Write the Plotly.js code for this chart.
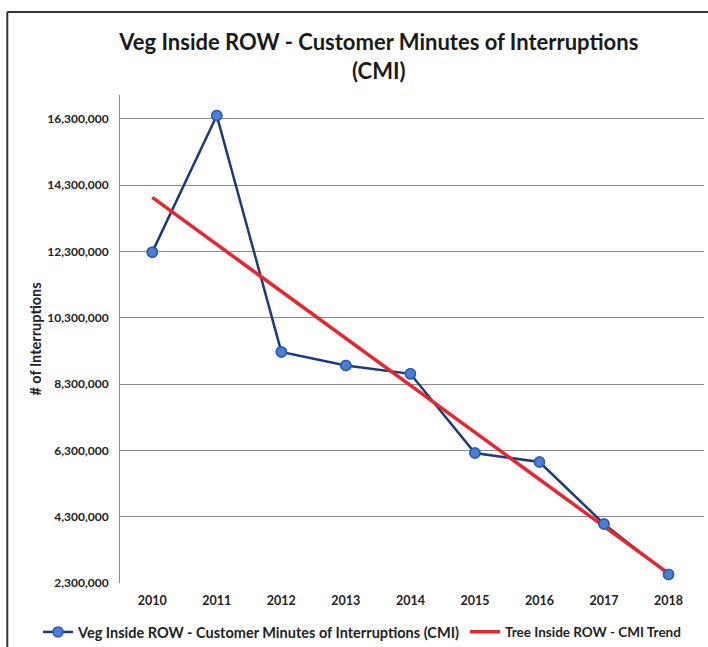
<!DOCTYPE html>
<html>
<head>
<meta charset="utf-8">
<script src="https://cdn.plot.ly/plotly-3.0.1.min.js"></script>
<style>
html,body{margin:0;padding:0;background:#fff;}
#chart{width:708px;height:647px;}
</style>
</head>
<body>
<div id="chart"></div>
<script>
const years = ['2010','2011','2012','2013','2014','2015','2016','2017','2018'];
const cmiValues = [12280000, 16400000, 9270000, 8860000, 8610000, 6220000, 5950000, 4080000, 2560000];
const trendYears = ['2010','2018'];
const trendValues = [13930000, 2590000];
const yTicks = [2300000, 4300000, 6300000, 8300000, 10300000, 12300000, 14300000, 16300000];
const yTickLabels = ['2,300,000','4,300,000','6,300,000','8,300,000','10,300,000','12,300,000','14,300,000','16,300,000'];

const seriesName = 'Veg Inside ROW - Customer Minutes of Interruptions (CMI)';
const trendName = 'Tree Inside ROW - CMI Trend';
const FONT = 'Lato, "Open Sans", sans-serif';

const traces = [
  {
    x: years, y: cmiValues, type: 'scatter', mode: 'lines+markers', name: seriesName,
    legend: 'legend',
    line: {color: '#1B3A78', width: 2.5},
    marker: {color: '#4A7FD4', size: 10, line: {color: '#2A5BB0', width: 1.5}}
  },
  {
    x: trendYears, y: trendValues, type: 'scatter', mode: 'lines', name: trendName,
    legend: 'legend2',
    line: {color: '#E8262E', width: 3.5}
  },
  {
    x: years, y: cmiValues, type: 'scatter', mode: 'markers', showlegend: false, hoverinfo: 'skip',
    marker: {color: '#4A7FD4', size: 10, line: {color: '#2A5BB0', width: 1.5}}
  }
];

const layout = {
  width: 708, height: 647,
  margin: {l: 120, r: 4, t: 95, b: 64},
  paper_bgcolor: '#fff', plot_bgcolor: '#fff',
  font: {family: FONT, color: '#222'},
  title: {
    text: '<b>Veg Inside ROW - Customer Minutes of Interruptions<br>(CMI)</b>',
    font: {family: FONT, size: 22, color: '#1a1a1a'},
    x: 0.535, xanchor: 'center', xref: 'container',
    y: 1 - 50/647, yanchor: 'middle', yref: 'container',
    automargin: false
  },
  xaxis: {
    type: 'category', range: [-0.5, 8.55],
    showgrid: false, zeroline: false,
    showline: false, ticks: '', ticklabelstandoff: 8,
    tickfont: {family: FONT, size: 12.5, color: '#222', weight: 'bold'}
  },
  yaxis: {
    range: [2300000, 17020000],
    tickvals: yTicks, ticktext: yTickLabels,
    showgrid: true, gridcolor: '#8a8a8a', gridwidth: 1,
    zeroline: false, showline: true, linecolor: '#8a8a8a', linewidth: 1,
    ticks: '', ticklen: 0, ticklabelstandoff: 8,
    tickfont: {family: FONT, size: 12, color: '#222', weight: 'bold'},
    title: {text: '<b># of Interruptions</b>', font: {family: FONT, size: 14.5, color: '#222'}, standoff: 2}
  },
  legend: {
    orientation: 'h', xref: 'container', yref: 'container',
    x: 38/708, xanchor: 'left', y: 1 - 632/647, yanchor: 'middle',
    font: {family: FONT, size: 14.5, color: '#222', weight: 'bold'},
    itemwidth: 30
  },
  legend2: {
    orientation: 'h', xref: 'container', yref: 'container',
    x: 465/708, xanchor: 'left', y: 1 - 632/647, yanchor: 'middle',
    font: {family: FONT, size: 13.5, color: '#222', weight: 'bold'},
    itemwidth: 30
  },
  showlegend: true,
  shapes: [
    {type: 'line', xref: 'paper', yref: 'paper', x0: -0.193, x1: 1.01, y0: 1.17, y1: 1.17, line: {color: '#333', width: 2}},
    {type: 'line', xref: 'paper', yref: 'paper', x0: -0.193, x1: -0.193, y0: 1.17, y1: -0.14, line: {color: '#333', width: 2}}
  ]
};

Plotly.newPlot('chart', traces, layout, {displayModeBar: false, staticPlot: true});
</script>
</body>
</html>
